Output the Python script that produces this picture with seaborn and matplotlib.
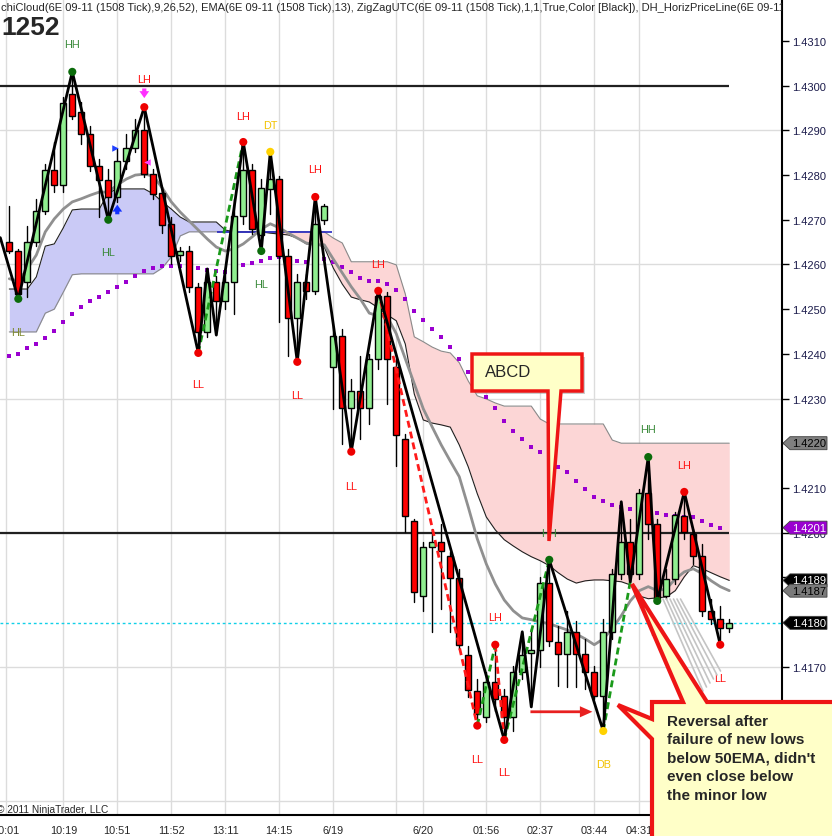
import numpy as np
import pandas as pd
import matplotlib
matplotlib.use("Agg")
import matplotlib.pyplot as plt
import matplotlib.transforms as mtransforms
from matplotlib.patches import Rectangle, Polygon
import seaborn as sns

sns.set_style("white")
plt.rcParams['font.family'] = ['Liberation Sans', 'DejaVu Sans']
NARROW = ['Liberation Sans Narrow', 'Liberation Sans', 'DejaVu Sans']

# 6E 09-11, 1508 tick bars
opens = [1.42650, 1.42630, 1.42561, 1.42650, 1.42720, 1.42811, 1.42778, 1.42981, 1.42941, 1.42892,
         1.42820, 1.42789, 1.42751, 1.42832, 1.42861, 1.42901, 1.42802, 1.42760, 1.42691, 1.42621,
         1.42630, 1.42550, 1.42449, 1.42561, 1.42518, 1.42561, 1.42709, 1.42811, 1.42666, 1.42769,
         1.42791, 1.42619, 1.42480, 1.42561, 1.42541, 1.42700, 1.42371, 1.42440, 1.42279, 1.42317,
         1.42279, 1.42389, 1.42530, 1.42371, 1.42210, 1.42026, 1.41858, 1.41968, 1.41979, 1.41948,
         1.41899, 1.41726, 1.41646, 1.41588, 1.41666, 1.41635, 1.41588, 1.41688, 1.41731, 1.41738,
         1.41887, 1.41755, 1.41729, 1.41778, 1.41729, 1.41688, 1.41635, 1.41778, 1.41908, 1.41979,
         1.41908, 1.42089, 1.42019, 1.41858, 1.41896, 1.42037, 1.41997, 1.41948, 1.41825, 1.41807,
         1.41787]
highs = [1.42731, 1.42635, 1.42686, 1.42747, 1.42825, 1.42874, 1.42975, 1.43031, 1.42964, 1.42910,
         1.42836, 1.42814, 1.42858, 1.42892, 1.42926, 1.42952, 1.42814, 1.42769, 1.42706, 1.42639,
         1.42641, 1.42559, 1.42590, 1.42574, 1.42590, 1.42747, 1.42874, 1.42825, 1.42791, 1.42852,
         1.42798, 1.42635, 1.42579, 1.42579, 1.42751, 1.42735, 1.42462, 1.42456, 1.42344, 1.42395,
         1.42400, 1.42541, 1.42538, 1.42389, 1.42221, 1.42031, 1.41979, 1.42008, 1.42019, 1.41957,
         1.41919, 1.41747, 1.41673, 1.41688, 1.41749, 1.41650, 1.41702, 1.41778, 1.41785, 1.41901,
         1.41939, 1.41791, 1.41825, 1.41802, 1.41762, 1.41702, 1.41807, 1.41919, 1.42069, 1.42031,
         1.42098, 1.42169, 1.42031, 1.41919, 1.42046, 1.42091, 1.42008, 1.41975, 1.41852, 1.41836,
         1.41807]
lows = [1.42626, 1.42523, 1.42527, 1.42641, 1.42713, 1.42762, 1.42762, 1.42926, 1.42870, 1.42809,
        1.42706, 1.42700, 1.42740, 1.42814, 1.42852, 1.42796, 1.42747, 1.42670, 1.42601, 1.42608,
        1.42538, 1.42402, 1.42438, 1.42442, 1.42501, 1.42489, 1.42691, 1.42668, 1.42630, 1.42713,
        1.42471, 1.42395, 1.42382, 1.42523, 1.42534, 1.42691, 1.42277, 1.42198, 1.42181, 1.42210,
        1.42243, 1.42366, 1.42288, 1.42149, 1.42002, 1.41845, 1.41825, 1.41778, 1.41829, 1.41778,
        1.41740, 1.41632, 1.41568, 1.41577, 1.41601, 1.41536, 1.41556, 1.41673, 1.41610, 1.41700,
        1.41747, 1.41657, 1.41655, 1.41655, 1.41650, 1.41628, 1.41556, 1.41762, 1.41896, 1.41890,
        1.41896, 1.41986, 1.41847, 1.41852, 1.41885, 1.41986, 1.41930, 1.41814, 1.41796, 1.41749,
        1.41778]
closes = [1.42630, 1.42534, 1.42650, 1.42720, 1.42811, 1.42778, 1.42961, 1.42932, 1.42892, 1.42820,
          1.42789, 1.42751, 1.42832, 1.42861, 1.42901, 1.42802, 1.42758, 1.42688, 1.42619, 1.42630,
          1.42550, 1.42449, 1.42561, 1.42518, 1.42561, 1.42709, 1.42811, 1.42679, 1.42771, 1.42791,
          1.42619, 1.42480, 1.42561, 1.42541, 1.42691, 1.42731, 1.42440, 1.42279, 1.42317, 1.42279,
          1.42389, 1.42530, 1.42389, 1.42219, 1.42037, 1.41867, 1.41968, 1.41979, 1.41959, 1.41899,
          1.41749, 1.41648, 1.41594, 1.41666, 1.41628, 1.41588, 1.41688, 1.41726, 1.41738, 1.41887,
          1.41758, 1.41729, 1.41778, 1.41729, 1.41688, 1.41635, 1.41778, 1.41908, 1.41979, 1.41908,
          1.42089, 1.42019, 1.41852, 1.41896, 1.42040, 1.42002, 1.41948, 1.41825, 1.41807, 1.41787,
          1.41798]

# EMA(13)
ema = [1.42568, 1.42563, 1.42590, 1.42621, 1.42673, 1.42702, 1.42724, 1.42740, 1.42747, 1.42755,
       1.42762, 1.42762, 1.42778, 1.42791, 1.42800, 1.42802, 1.42798, 1.42771, 1.42740, 1.42717,
       1.42697, 1.42677, 1.42657, 1.42639, 1.42630, 1.42635, 1.42646, 1.42662, 1.42679, 1.42691,
       1.42682, 1.42670, 1.42659, 1.42648, 1.42644, 1.42644, 1.42612, 1.42581, 1.42550, 1.42523,
       1.42491, 1.42485, 1.42483, 1.42445, 1.42389, 1.42333, 1.42277, 1.42236, 1.42196, 1.42160,
       1.42125, 1.42057, 1.41986, 1.41930, 1.41885, 1.41849, 1.41825, 1.41809, 1.41805, 1.41800,
       1.41796, 1.41789, 1.41782, 1.41773, 1.41762, 1.41749, 1.41762, 1.41785, 1.41814, 1.41847,
       1.41870, 1.41879, 1.41870, 1.41874, 1.41896, 1.41912, 1.41919, 1.41908, 1.41892, 1.41879,
       1.41870]

# ichimoku cloud spans
span_a = [1.42545, 1.42545, 1.42545, 1.42572, 1.42641, 1.42646, 1.42682, 1.42722, 1.42724, 1.42724,
          1.42724, 1.42760, 1.42769, 1.42769, 1.42769, 1.42769, 1.42758, 1.42740, 1.42724, 1.42706,
          1.42695, 1.42695, 1.42695, 1.42695, 1.42677, 1.42673, 1.42673, 1.42673, 1.42673, 1.42670,
          1.42668, 1.42666, 1.42659, 1.42646, 1.42646, 1.42639, 1.42592, 1.42556, 1.42527, 1.42521,
          1.42516, 1.42503, 1.42487, 1.42474, 1.42422, 1.42310, 1.42252, 1.42245, 1.42241, 1.42236,
          1.42196, 1.42147, 1.42087, 1.42035, 1.42006, 1.41984, 1.41970, 1.41957, 1.41946, 1.41937,
          1.41926, 1.41910, 1.41896, 1.41887, 1.41892, 1.41894, 1.41894, 1.41892, 1.41890, 1.41883,
          1.41858, 1.41852, 1.41854, 1.41856, 1.41870, 1.41901, 1.41926, 1.41919, 1.41910, 1.41901,
          1.41893]
span_b = [1.42449, 1.42449, 1.42449, 1.42449, 1.42491, 1.42500, 1.42538, 1.42577, 1.42579, 1.42579,
          1.42579, 1.42579, 1.42579, 1.42579, 1.42579, 1.42579, 1.42579, 1.42592, 1.42617, 1.42664,
          1.42673, 1.42673, 1.42673, 1.42673, 1.42673, 1.42673, 1.42673, 1.42673, 1.42673, 1.42673,
          1.42673, 1.42673, 1.42673, 1.42673, 1.42673, 1.42673, 1.42659, 1.42648, 1.42606, 1.42606,
          1.42606, 1.42606, 1.42606, 1.42599, 1.42534, 1.42438, 1.42427, 1.42415, 1.42406, 1.42402,
          1.42380, 1.42339, 1.42306, 1.42299, 1.42290, 1.42283, 1.42283, 1.42283, 1.42283, 1.42254,
          1.42243, 1.42243, 1.42243, 1.42243, 1.42243, 1.42243, 1.42243, 1.42207, 1.42200, 1.42200,
          1.42200, 1.42200, 1.42200, 1.42200, 1.42200, 1.42200, 1.42200, 1.42200, 1.42200, 1.42200,
          1.42200]

# purple dotted line (bars 0..79)
purple = [1.42395, 1.42400, 1.42413, 1.42422, 1.42436, 1.42451, 1.42471, 1.42489, 1.42505, 1.42518,
          1.42527, 1.42538, 1.42550, 1.42561, 1.42574, 1.42585, 1.42592, 1.42597, 1.42597, 1.42597,
          1.42594, 1.42592, 1.42588, 1.42585, 1.42583, 1.42590, 1.42599, 1.42603, 1.42608, 1.42615,
          1.42617, 1.42612, 1.42608, 1.42606, 1.42612, 1.42612, 1.42606, 1.42594, 1.42583, 1.42570,
          1.42563, 1.42563, 1.42556, 1.42543, 1.42523, 1.42496, 1.42476, 1.42456, 1.42438, 1.42415,
          1.42389, 1.42360, 1.42333, 1.42304, 1.42279, 1.42250, 1.42228, 1.42210, 1.42192, 1.42181,
          1.42160, 1.42147, 1.42136, 1.42116, 1.42098, 1.42080, 1.42071, 1.42062, 1.42057, 1.42053,
          1.42049, 1.42046, 1.42044, 1.42040, 1.42037, 1.42035, 1.42035, 1.42026, 1.42017, 1.42011]

# zigzag
zz_idx = [-1, 1, 7, 11, 15, 21, 22, 23, 26, 28, 29, 32, 34, 38, 41, 55, 57, 58, 60, 66, 68, 69, 71, 72, 75, 79]
zz_px = [1.42660, 1.42523, 1.43031, 1.42700, 1.42952, 1.42402, 1.42590, 1.42442, 1.42874, 1.42630,
         1.42852, 1.42382, 1.42751, 1.42181, 1.42541, 1.41536, 1.41778, 1.41610, 1.41939, 1.41556,
         1.42069, 1.41890, 1.42169, 1.41847, 1.42091, 1.41749]

red_dash = [([41, 52], [1.42541, 1.41568]), ([54, 55], [1.41749, 1.41536])]
green_dash = [([21, 26], [1.42402, 1.42874]), ([52, 54], [1.41568, 1.41749]),
              ([55, 60], [1.41536, 1.41939]), ([66, 69], [1.41556, 1.41890])]

dot_idx = [1, 7, 11, 15, 21, 26, 28, 29, 32, 34, 38, 41, 52, 54, 55, 60, 66, 71, 72, 75, 79]
dot_px = [1.42523, 1.43031, 1.42700, 1.42952, 1.42402, 1.42874, 1.42630, 1.42852, 1.42382, 1.42751,
          1.42181, 1.42541, 1.41568, 1.41749, 1.41536, 1.41939, 1.41556, 1.42169, 1.41847, 1.42091,
          1.41749]
dot_kind = ['HL', 'HH', 'HL', 'LH', 'LL', 'LH', 'HL', 'DT', 'LL', 'LH', 'LL', 'LH', 'LL', 'LH', 'LL',
            'HH', 'DB', 'HH', 'HL', 'LH', 'LL']

lab_idx = [7, 15, 11, 1, 21, 26, 29, 28, 34, 32, 41, 38, 54, 52, 55, 60, 66, 71, 75, 72, 79]
lab_txt = ['HH', 'LH', 'HL', 'HL', 'LL', 'LH', 'DT', 'HL', 'LH', 'LL', 'LH', 'LL', 'LH', 'LL', 'LL',
           'HH', 'DB', 'HH', 'LH', 'HL', 'LL']
lab_px = [1.43093, 1.43015, 1.42628, 1.42449, 1.42333, 1.42932, 1.42912, 1.42556, 1.42814, 1.42308,
          1.42601, 1.42104, 1.41811, 1.41494, 1.41465, 1.41999, 1.41483, 1.42232, 1.42151, 1.41778,
          1.41675]

tick_pos = [-0.4, 6, 12, 18, 24, 30, 36, 43, 46, 53, 59, 65, 70]
tick_labels = ['10:01', '10:19', '10:51', '11:52', '13:11', '14:15', '6/19', '', '6/20',
               '01:56', '02:37', '03:44', '04:31']
grid_levels = [1.4140, 1.4170, 1.4200, 1.4230, 1.4260, 1.4290]
price_lines = [1.4300, 1.4200]

kind_color = {'HH': '#3a8a3a', 'HL': '#3a8a3a', 'LH': '#ff1010', 'LL': '#ff1010',
              'DT': '#f2c200', 'DB': '#f2c200'}
dot_color = {'HH': '#0b6b0b', 'HL': '#0b6b0b', 'LH': '#ee0000', 'LL': '#ee0000',
             'DT': '#ffd200', 'DB': '#ffd200'}

idx = np.arange(len(closes))
a = np.array(span_a)
b = np.array(span_b)

W, H = 832, 837
fig = plt.figure(figsize=(W / 100, H / 100), dpi=100)
ax = fig.add_axes([0, 21 / H, 782 / W, 816 / H])
ax.set_xlim(-1.033, 85.86)
ax.set_ylim(1.41368, 1.43194)

# grid
for x in tick_pos:
    ax.axvline(x, color='#dcdcdc', lw=1, zorder=0)
for g in grid_levels:
    ax.axhline(g, color='#dcdcdc', lw=1, zorder=0)

# cloud
ax.fill_between(idx, a, b, where=a >= b, interpolate=True, color='#cacaf6', lw=0, zorder=1)
ax.fill_between(idx, a, b, where=a < b, interpolate=True, color='#fcd6d6', lw=0, zorder=1)
sns.lineplot(x=idx, y=a, color='#202020', lw=0.8, ax=ax, zorder=2)
sns.lineplot(x=idx, y=b, color='#8a8a8a', lw=0.8, ax=ax, zorder=2)
ax.hlines(span_b[30], 23.1, 35.9, color='#2626c0', lw=1.2, zorder=2)

# price lines
ax.hlines(price_lines, -1.1, 80, color='#202020', lw=1.6, zorder=2)
ax.axhline(closes[-1], color='#10d0e8', ls=(0, (2, 2)), lw=1, zorder=2)

# purple dots + EMA
sns.scatterplot(x=idx[:len(purple)], y=purple, marker='s', s=11, color='#9a00d0',
                linewidth=0, ax=ax, zorder=3)
sns.lineplot(x=idx, y=ema, color='#909090', lw=2, ax=ax, zorder=3)

# candles
for i, (o, h, l, c) in enumerate(zip(opens, highs, lows, closes)):
    ax.plot([i, i], [l, h], color='black', lw=1, zorder=4)
    col = '#90ee90' if c >= o else '#ff0000'
    ax.add_patch(Rectangle((i - 0.35, min(o, c)), 0.7, max(abs(c - o), 0.00002),
                           facecolor=col, edgecolor='black', lw=1, zorder=5))

# zigzag & patterns
for xs, ys in red_dash:
    ax.plot(xs, ys, color='#ff1a1a', lw=2, ls=(0, (2.5, 1.5)), zorder=6)
for xs, ys in green_dash:
    ax.plot(xs, ys, color='#1a9a1a', lw=2, ls=(0, (2.5, 1.5)), zorder=6)
sns.lineplot(x=zz_idx, y=zz_px, sort=False, color='black', lw=2, ax=ax, zorder=7)
ax.scatter(dot_idx, dot_px, s=34, c=[dot_color[k] for k in dot_kind], zorder=8, linewidths=0)
for i, p, t in zip(lab_idx, lab_px, lab_txt):
    col = '#7f8a30' if (i == 1 and t == 'HL') else kind_color[t]
    ax.text(i, p, t, ha='center', va='center', fontsize=7.8, color=col, zorder=8)

# signal arrows
sig_up = (12, 1.42706, 1.42740)
sig_down = (15, 1.43000, 1.42966)
ax.annotate('', xy=(sig_up[0], sig_up[2]), xytext=(sig_up[0], sig_up[1]),
            arrowprops=dict(arrowstyle='simple,head_width=0.7,head_length=0.5,tail_width=0.3',
                            color='#1030ff', lw=0), zorder=9)
ax.annotate('', xy=(sig_down[0], sig_down[2]), xytext=(sig_down[0], sig_down[1]),
            arrowprops=dict(arrowstyle='simple,head_width=0.7,head_length=0.5,tail_width=0.3',
                            color='#ff30ff', lw=0), zorder=9)
ax.scatter([11.75], [1.42861], marker='>', s=22, color='#2040ff', zorder=9, linewidths=0)
ax.scatter([15.3], [1.42829], marker='<', s=22, color='#ff40ff', zorder=9, linewidths=0)

# red arrow to double bottom
ax.annotate('', xy=(65.1, 1.41599), xytext=(57.6, 1.41599),
            arrowprops=dict(arrowstyle='simple,head_width=0.8,head_length=0.9,tail_width=0.2',
                            color='#e82020', lw=0), zorder=9)

# axes styling
ax.yaxis.tick_right()
yt = np.round(np.arange(1.4140, 1.43101, 0.001), 4)
ax.set_yticks(yt, [f'{v:.4f}' for v in yt])
ax.set_xticks(tick_pos, tick_labels)
ax.tick_params(axis='y', direction='out', length=5, width=1, labelsize=8,
               pad=2, colors='black')
ax.tick_params(axis='y', labelcolor='#1c1c4c')
ax.tick_params(axis='x', direction='out', length=5, width=1, labelsize=7.8, pad=2)
for t in ax.get_xticklabels():
    t.set_fontfamily(NARROW)
for s in ['left', 'top']:
    ax.spines[s].set_visible(False)
for s in ['right', 'bottom']:
    ax.spines[s].set_color('black')
    ax.spines[s].set_linewidth(1.5)
ax.set_xlabel('')
ax.set_ylabel('')

# last value tags on the price axis
blend = mtransforms.blended_transform_factory(ax.transAxes, ax.transData)
tags = [(span_b[-1], '#808080', 'black'), (purple[-1], '#9a00d0', 'white'),
        (span_a[-1], '#000000', 'white'), (ema[-1], '#7a7a7a', 'black'),
        (closes[-1], '#000000', 'white')]
hh = 6.5 / 44700
for v, fc, tc in tags:
    pts = [(1 + 1 / 782, v), (1 + 8 / 782, v + hh), (1 + 45 / 782, v + hh),
           (1 + 45 / 782, v - hh), (1 + 8 / 782, v - hh)]
    ax.add_patch(Polygon(pts, closed=True, transform=blend, facecolor=fc,
                         edgecolor='#404040', lw=0.6, clip_on=False, zorder=20))
    ax.text(1 + 27 / 782, v, f'{v:.4f}', transform=blend, ha='center', va='center',
            fontsize=8, color=tc, clip_on=False, zorder=21)

# header text
header = ("chiCloud(6E 09-11 (1508 Tick),9,26,52), EMA(6E 09-11 (1508 Tick),13), "
          "ZigZagUTC(6E 09-11 (1508 Tick),1,1,True,Color [Black]), DH_HorizPriceLine(6E 09-11")
ax.text(0.001, 1 - 8 / 816, header, transform=ax.transAxes, fontsize=8.0, va='center',
        ha='left', clip_on=True, zorder=10)
ax.text(0.002, 1 - 28 / 816, '1252', transform=ax.transAxes, fontsize=19, fontweight='bold',
        va='center', ha='left', family=NARROW, zorder=10)
ax.text(-0.004, 6 / 816, '\u00a9 2011 NinjaTrader, LLC', transform=ax.transAxes, fontsize=7.3,
        va='center', ha='left', family=NARROW, zorder=10)


# callouts (pixel outline of the drawing objects)
def fxy(pts):
    return [(x / W, 1 - y / H) for x, y in pts]


for k in range(6):
    fig.add_artist(plt.Line2D([(663 + 3.5 * k) / W, (703 + 3.5 * k) / W],
                              [1 - 600 / H, 1 - (692 - 4 * k) / H],
                              color='#c4c4c4', lw=1.2, zorder=15))

abcd = [(472, 355), (582, 355), (582, 392), (561, 392), (549, 542), (548, 392), (472, 392)]
fig.add_artist(Polygon(fxy([(x + 3, y + 3) for x, y in abcd[:3]] + [(475, 395)]), closed=True,
                       transform=fig.transFigure, facecolor='#9a9a9a', alpha=0.5, lw=0, zorder=18))
fig.add_artist(Polygon(fxy(abcd), closed=True, transform=fig.transFigure,
                       facecolor='#ffffc8', edgecolor='#ee1515', lw=2.5, zorder=19))
fig.text(485 / W, 1 - 373 / H, 'ABCD', fontsize=12, va='center', ha='left', zorder=20)

rev = [(652, 703), (683, 703), (632, 585), (707, 703), (845, 703), (845, 850), (652, 850),
       (652, 740), (618, 706), (652, 720)]
fig.add_artist(Polygon(fxy(rev), closed=True, transform=fig.transFigure,
                       facecolor='#ffffc8', edgecolor='#ee1515', lw=3, zorder=19))
fig.text(667 / W, 1 - 715 / H,
         "Reversal after\nfailure of new lows\nbelow 50EMA, didn't\neven close below\nthe minor low",
         fontsize=11, fontweight='bold', va='top', ha='left', linespacing=1.4, zorder=20)

fig.savefig('out.png', dpi=100)
